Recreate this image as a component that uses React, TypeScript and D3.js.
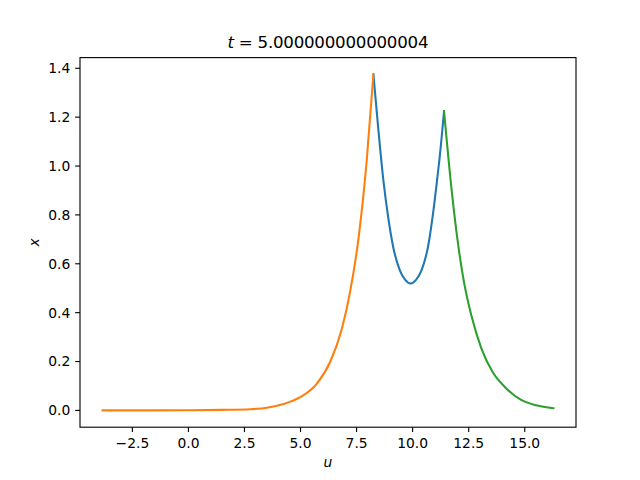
import * as d3 from "d3";

// middle branch (C0)
const blueU = [8.25, 8.47, 8.69, 8.91, 9.13, 9.43, 9.67, 9.91, 10.15, 10.4, 10.69, 10.91, 11.09, 11.21, 11.4];
const blueX = [1.375, 1.15, 0.945, 0.79, 0.67, 0.573, 0.534, 0.519, 0.534, 0.574, 0.672, 0.806, 0.943, 1.04, 1.225];

// left branch (C1)
const orangeU = [-3.83, -2.0, 0.0, 1.5, 2.76, 3.5, 4.24, 4.98, 5.73, 6.32, 6.84, 7.21, 7.58, 7.95, 8.25];
const orangeX = [0.0, 0.0002, 0.0007, 0.002, 0.005, 0.011, 0.026, 0.054, 0.11, 0.198, 0.333, 0.485, 0.7, 1.02, 1.375];

// right branch (C2)
const greenU = [11.4, 11.73, 12.05, 12.28, 12.62, 13.06, 13.58, 14.1, 14.84, 15.51, 16.28];
const greenX = [1.225, 0.91, 0.665, 0.53, 0.388, 0.255, 0.155, 0.097, 0.043, 0.021, 0.009];

const xTicks = [-2.5, 0, 2.5, 5, 7.5, 10, 12.5, 15];
const yTicks = [0, 0.2, 0.4, 0.6, 0.8, 1.0, 1.2, 1.4];

const series = [
  { u: blueU, x: blueX, color: "#1f77b4" },
  { u: orangeU, x: orangeX, color: "#ff7f0e" },
  { u: greenU, x: greenX, color: "#2ca02c" },
];

const width = 640;
const height = 480;
const margin = { left: 80, right: 64, top: 57.6, bottom: 52.8 };
const font = "DejaVu Sans, sans-serif";

export default function App() {
  const allU = [...blueU, ...orangeU, ...greenU];
  const allX = [...blueX, ...orangeX, ...greenX];
  const [u0, u1] = d3.extent(allU) as [number, number];
  const [x0, x1] = d3.extent(allX) as [number, number];
  const padU = (u1 - u0) * 0.05;
  const padX = (x1 - x0) * 0.05;

  const xScale = d3
    .scaleLinear()
    .domain([u0 - padU, u1 + padU])
    .range([margin.left, width - margin.right]);
  const yScale = d3
    .scaleLinear()
    .domain([x0 - padX, x1 + padX])
    .range([height - margin.bottom, margin.top]);

  const line = d3.line<number>().curve(d3.curveMonotoneX);

  const left = margin.left;
  const right = width - margin.right;
  const top = margin.top;
  const bottom = height - margin.bottom;

  return (
    <svg
      width={width}
      height={height}
      style={{ position: "absolute", left: 0, top: 0, background: "white" }}
      fontFamily={font}
    >
      <rect x={0} y={0} width={width} height={height} fill="white" />
      <defs>
        <clipPath id="plot">
          <rect x={left} y={top} width={right - left} height={bottom - top} />
        </clipPath>
      </defs>
      <g clipPath="url(#plot)">
        {series.map((s, i) => (
          <path
            key={i}
            d={
              line
                .x((_, j) => xScale(s.u[j]))
                .y((_, j) => yScale(s.x[j]))(s.x) ?? ""
            }
            fill="none"
            stroke={s.color}
            strokeWidth={2.08}
            strokeLinejoin="round"
            strokeLinecap="square"
          />
        ))}
      </g>
      <rect
        x={left}
        y={top}
        width={right - left}
        height={bottom - top}
        fill="none"
        stroke="black"
        strokeWidth={1.11}
      />
      {xTicks.map((t) => (
        <g key={t} transform={`translate(${xScale(t)},${bottom})`}>
          <line y1={0} y2={4.86} stroke="black" strokeWidth={1.11} />
          <text
            y={9.7}
            dy="0.8em"
            fontSize={13.89}
            textAnchor="middle"
            fill="black"
          >
            {t < 0 ? "\u2212" + Math.abs(t).toFixed(1) : t.toFixed(1)}
          </text>
        </g>
      ))}
      {yTicks.map((t) => (
        <g key={t} transform={`translate(${left},${yScale(t)})`}>
          <line x1={0} x2={-4.86} stroke="black" strokeWidth={1.11} />
          <text
            x={-9.7}
            dy="0.35em"
            fontSize={13.89}
            textAnchor="end"
            fill="black"
          >
            {t.toFixed(1)}
          </text>
        </g>
      ))}
      <text
        x={(left + right) / 2}
        y={467}
        fontSize={13.89}
        fontStyle="italic"
        textAnchor="middle"
      >
        u
      </text>
      <text
        transform={`translate(39,${(top + bottom) / 2}) rotate(-90)`}
        fontSize={13.89}
        fontStyle="italic"
        textAnchor="middle"
      >
        x
      </text>
      <text
        x={(left + right) / 2}
        y={48}
        fontSize={16.67}
        textAnchor="middle"
        textLength={201}
        lengthAdjust="spacing"
      >
        <tspan fontStyle="italic">t</tspan>
        <tspan> = 5.000000000000004</tspan>
      </text>
    </svg>
  );
}
